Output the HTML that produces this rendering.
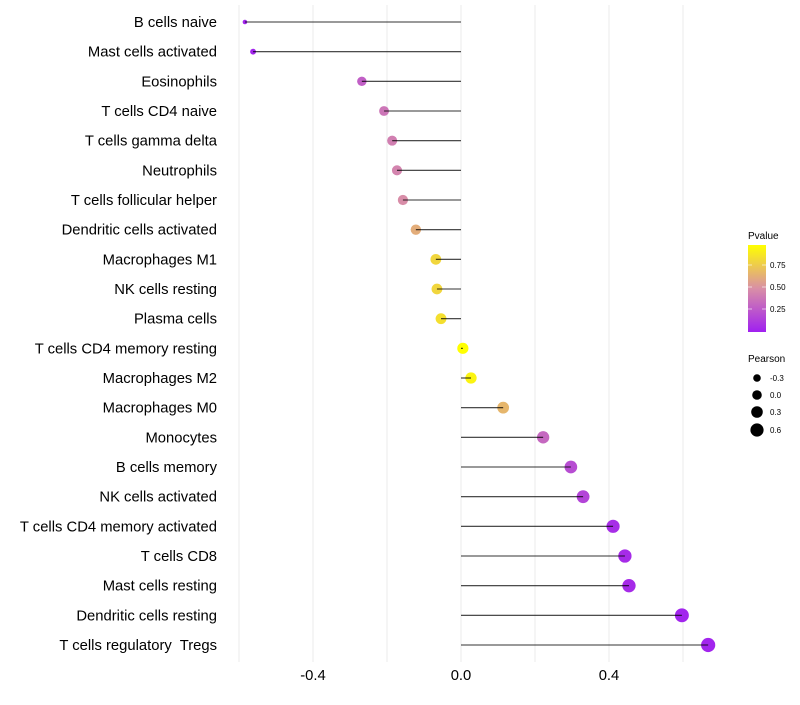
<!DOCTYPE html>
<html><head><meta charset="utf-8"><style>
body{margin:0;background:#fff;}
svg text{font-family:"Liberation Sans",sans-serif;white-space:pre;}
</style></head><body>
<svg id="chart" width="800" height="700" xmlns="http://www.w3.org/2000/svg">
<defs><linearGradient id="pg" x1="0" y1="1" x2="0" y2="0">
<stop offset="0" stop-color="#A020F0"/><stop offset="0.5" stop-color="#D98FA6"/><stop offset="1" stop-color="#FFFF00"/></linearGradient></defs>
<g id="grid"></g>
<g id="ylabels"></g>
<g id="marks"></g>
<g id="xticks"></g>
<g>
<text x="748" y="239" font-size="10">Pvalue</text>
<rect x="748" y="245" width="18" height="87" fill="url(#pg)"/>
<line x1="748" y1="265" x2="752" y2="265" stroke="#fff" stroke-opacity="0.6"/><line x1="762" y1="265" x2="766" y2="265" stroke="#fff" stroke-opacity="0.6"/>
<line x1="748" y1="287" x2="752" y2="287" stroke="#fff" stroke-opacity="0.6"/><line x1="762" y1="287" x2="766" y2="287" stroke="#fff" stroke-opacity="0.6"/>
<line x1="748" y1="309" x2="752" y2="309" stroke="#fff" stroke-opacity="0.6"/><line x1="762" y1="309" x2="766" y2="309" stroke="#fff" stroke-opacity="0.6"/>
<text x="770" y="268" font-size="8">0.75</text>
<text x="770" y="290" font-size="8">0.50</text>
<text x="770" y="312" font-size="8">0.25</text>
</g>
<g>
<text x="748" y="362" font-size="10">Pearson</text>
<circle cx="757" cy="378" r="3.8"/><text x="770" y="381" font-size="8">-0.3</text>
<circle cx="757" cy="395" r="4.8"/><text x="770" y="398" font-size="8">0.0</text>
<circle cx="757" cy="412" r="5.8"/><text x="770" y="415" font-size="8">0.3</text>
<circle cx="757" cy="430" r="6.6"/><text x="770" y="433" font-size="8">0.6</text>
</g>
</svg>
<script>
const categories=["B cells naive","Mast cells activated","Eosinophils","T cells CD4 naive","T cells gamma delta","Neutrophils","T cells follicular helper","Dendritic cells activated","Macrophages M1","NK cells resting","Plasma cells","T cells CD4 memory resting","Macrophages M2","Macrophages M0","Monocytes","B cells memory","NK cells activated","T cells CD4 memory activated","T cells CD8","Mast cells resting","Dendritic cells resting","T cells regulatory  Tregs"];
const pearson=[-0.584,-0.562,-0.268,-0.208,-0.186,-0.173,-0.157,-0.122,-0.068,-0.065,-0.054,0.005,0.027,0.114,0.222,0.297,0.33,0.411,0.443,0.454,0.597,0.668];
const pvalue=[0.02,0.02,0.28,0.38,0.42,0.44,0.48,0.62,0.8,0.8,0.84,0.98,0.93,0.66,0.32,0.2,0.16,0.06,0.05,0.05,0.02,0.02];
const xTicks=[-0.4,0.0,0.4];
const xTickLabels=["-0.4","0.0","0.4"];
const gridVals=[-0.6,-0.4,-0.2,0,0.2,0.4,0.6];
const NS="http://www.w3.org/2000/svg";
const xs=v=>461+v*370;
const ys=i=>22+i*(623/21);
function mk(t,a,p){const e=document.createElementNS(NS,t);for(const k in a)e.setAttribute(k,a[k]);p.appendChild(e);return e;}
function lerp(a,b,t){return a.map((v,i)=>Math.round(v+(b[i]-v)*t));}
function pcol(p){const t=Math.min(1,Math.max(0,p/0.98));const c0=[160,32,240],c1=[217,143,166],c2=[255,255,0];
const c=t<0.5?lerp(c0,c1,t*2):lerp(c1,c2,(t-0.5)*2);return `rgb(${c[0]},${c[1]},${c[2]})`;}
const g=document.getElementById('grid');
gridVals.forEach(v=>{const l=mk('line',{x1:xs(v),x2:xs(v),y1:5,y2:662,stroke:'#ebebeb','stroke-width':1},g);

});
const yl=document.getElementById('ylabels'),m=document.getElementById('marks');
const pmin=Math.min(...pearson),pmax=Math.max(...pearson);
categories.forEach((c,i)=>{
const t=mk('text',{x:217,y:ys(i)+5,'text-anchor':'end','font-size':14.8,fill:'#000'},yl);t.textContent=c;


const r=2.3+4.8*Math.sqrt((pearson[i]-pmin)/(pmax-pmin));
const ci=mk('circle',{cx:xs(pearson[i]),cy:ys(i),r:r,fill:pcol(pvalue[i])},m);


const l=mk('line',{x1:xs(0),x2:xs(pearson[i]),y1:ys(i),y2:ys(i),stroke:'#000','stroke-opacity':0.8,'stroke-width':1.1},m);


});
const xt=document.getElementById('xticks');
xTicks.forEach((v,i)=>{const t=mk('text',{x:xs(v),y:680,'text-anchor':'middle','font-size':14.8,fill:'#000'},xt);t.textContent=xTickLabels[i];

});
</script>
</body></html>
